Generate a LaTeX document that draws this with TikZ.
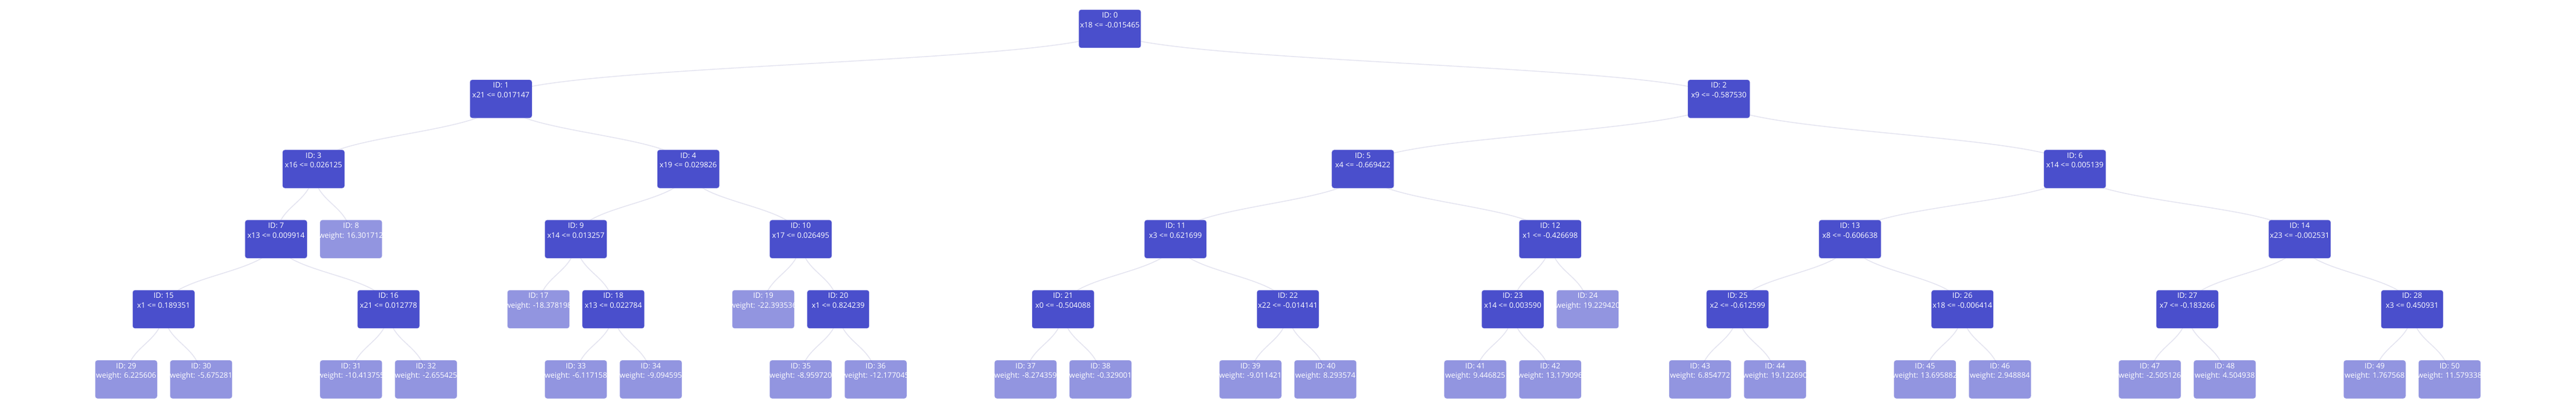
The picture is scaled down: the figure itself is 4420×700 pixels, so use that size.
\documentclass[tikz,border=0pt]{standalone}
\usepackage{fontspec}
\setmainfont{Open Sans}
\definecolor{nodecol}{HTML}{4A4FCC}
\definecolor{linkcol}{HTML}{E4E4F0}
\pgfdeclarelayer{bg}
\pgfsetlayers{bg,main}
\newcommand\twoline[2]{\vbox to 65.7pt{\offinterlineskip\vskip14pt\hbox to 106.5pt{\hss\smash{#1}\hss}\vskip16.7pt\hbox to 106.5pt{\hss\smash{#2}\hss}\vss}}
\newcommand\tnode[5]{\node[#1] (n#2) at ({216.5+64.3*#3},{49.4+120.3*#4}) {\twoline{ID: #2}{#5}};}
\tikzset{
  treebox/.style={rectangle, rounded corners=4pt, inner sep=0pt, outer sep=0pt, fill=nodecol,
    draw=white, draw opacity=0.25, line width=0.8pt, text=white, font=\fontsize{12.9}{15}\selectfont},
  splitbox/.style={treebox},
  leafbox/.style={treebox, fill opacity=0.6, text opacity=1},
  treelink/.style={draw=linkcol, line width=1.5pt},
}
\begin{document}
\begin{tikzpicture}[x=1pt,y=-1pt]
\useasboundingbox (0,0) rectangle (4420,700);
% level 0
\tnode{splitbox}{0}{26.25}{0}{x18 <= -0.015465}
% level 1
\tnode{splitbox}{1}{10}{1}{x21 <= 0.017147}
\tnode{splitbox}{2}{42.5}{1}{x9 <= -0.587530}
% level 2
\tnode{splitbox}{3}{5}{2}{x16 <= 0.026125}
\tnode{splitbox}{4}{15}{2}{x19 <= 0.029826}
\tnode{splitbox}{5}{33}{2}{x4 <= -0.669422}
\tnode{splitbox}{6}{52}{2}{x14 <= 0.005139}
% level 3
\tnode{splitbox}{7}{4}{3}{x13 <= 0.009914}
\tnode{leafbox}{8}{6}{3}{weight: 16.301712}
\tnode{splitbox}{9}{12}{3}{x14 <= 0.013257}
\tnode{splitbox}{10}{18}{3}{x17 <= 0.026495}
\tnode{splitbox}{11}{28}{3}{x3 <= 0.621699}
\tnode{splitbox}{12}{38}{3}{x1 <= -0.426698}
\tnode{splitbox}{13}{46}{3}{x8 <= -0.606638}
\tnode{splitbox}{14}{58}{3}{x23 <= -0.002531}
% level 4
\tnode{splitbox}{15}{1}{4}{x1 <= 0.189351}
\tnode{splitbox}{16}{7}{4}{x21 <= 0.012778}
\tnode{leafbox}{17}{11}{4}{weight: -18.378198}
\tnode{splitbox}{18}{13}{4}{x13 <= 0.022784}
\tnode{leafbox}{19}{17}{4}{weight: -22.393536}
\tnode{splitbox}{20}{19}{4}{x1 <= 0.824239}
\tnode{splitbox}{21}{25}{4}{x0 <= -0.504088}
\tnode{splitbox}{22}{31}{4}{x22 <= -0.014141}
\tnode{splitbox}{23}{37}{4}{x14 <= 0.003590}
\tnode{leafbox}{24}{39}{4}{weight: 19.229420}
\tnode{splitbox}{25}{43}{4}{x2 <= -0.612599}
\tnode{splitbox}{26}{49}{4}{x18 <= -0.006414}
\tnode{splitbox}{27}{55}{4}{x7 <= -0.183266}
\tnode{splitbox}{28}{61}{4}{x3 <= 0.450931}
% level 5
\tnode{leafbox}{29}{0}{5}{weight: 6.225606}
\tnode{leafbox}{30}{2}{5}{weight: -5.675281}
\tnode{leafbox}{31}{6}{5}{weight: -10.413755}
\tnode{leafbox}{32}{8}{5}{weight: -2.655425}
\tnode{leafbox}{33}{12}{5}{weight: -6.117158}
\tnode{leafbox}{34}{14}{5}{weight: -9.094595}
\tnode{leafbox}{35}{18}{5}{weight: -8.959720}
\tnode{leafbox}{36}{20}{5}{weight: -12.177045}
\tnode{leafbox}{37}{24}{5}{weight: -8.274359}
\tnode{leafbox}{38}{26}{5}{weight: -0.329001}
\tnode{leafbox}{39}{30}{5}{weight: -9.011421}
\tnode{leafbox}{40}{32}{5}{weight: 8.293574}
\tnode{leafbox}{41}{36}{5}{weight: 9.446825}
\tnode{leafbox}{42}{38}{5}{weight: 13.179096}
\tnode{leafbox}{43}{42}{5}{weight: 6.854772}
\tnode{leafbox}{44}{44}{5}{weight: 19.122690}
\tnode{leafbox}{45}{48}{5}{weight: 13.695882}
\tnode{leafbox}{46}{50}{5}{weight: 2.948884}
\tnode{leafbox}{47}{54}{5}{weight: -2.505126}
\tnode{leafbox}{48}{56}{5}{weight: 4.504938}
\tnode{leafbox}{49}{60}{5}{weight: 1.767568}
\tnode{leafbox}{50}{62}{5}{weight: 11.579338}
\begin{pgfonlayer}{bg}
\fill[white] (0,0) rectangle (4420,700);
\foreach \a/\b in {0/1,0/2,1/3,1/4,2/5,2/6,3/7,3/8,4/9,4/10,5/11,5/12,6/13,6/14,
  7/15,7/16,9/17,9/18,10/19,10/20,11/21,11/22,12/23,12/24,13/25,13/26,14/27,14/28,
  15/29,15/30,16/31,16/32,18/33,18/34,20/35,20/36,21/37,21/38,22/39,22/40,
  23/41,23/42,25/43,25/44,26/45,26/46,27/47,27/48,28/49,28/50}
  \draw[treelink] (n\a.center) .. controls +(0,60.15) and +(0,-60.15) .. (n\b.center);
\end{pgfonlayer}
\end{tikzpicture}
\end{document}
